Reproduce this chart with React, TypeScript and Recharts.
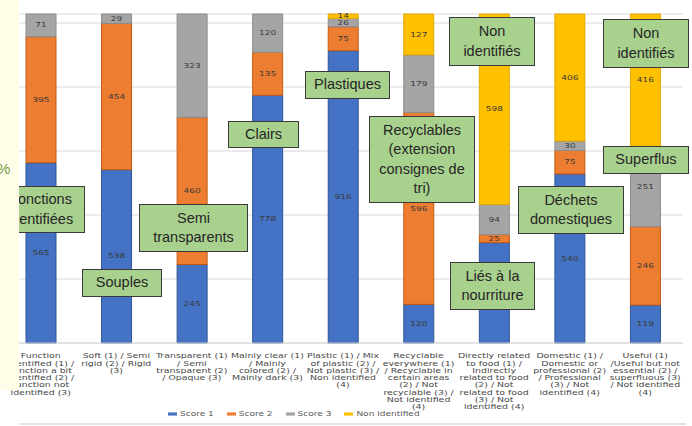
import React from "react";
import { BarChart, Bar, XAxis, YAxis, CartesianGrid, LabelList } from "recharts";

const categories = [
  "Function\nidentified (1) /\nfunction a bit\nidentified (2) /\nfunction not\nidentified (3)",
  "Soft (1) / Semi\nrigid (2) / Rigid\n(3)",
  "Transparent (1)\n/ Semi\ntransparent (2)\n/ Opaque (3)",
  "Mainly clear (1)\n/ Mainly\ncolored (2) /\nMainly dark (3)",
  "Plastic (1) / Mix\nof plastic (2) /\nNot plastic (3) /\nNon identified\n(4)",
  "Recyclable\neverywhere (1)\n/ Recyclable in\ncertain areas\n(2) / Not\nrecyclable (3) /\nNot identified\n(4)",
  "Directly related\nto food (1) /\nIndirectly\nrelated to food\n(2) / Not\nrelated to food\n(3) / Not\nidentified (4)",
  "Domestic (1) /\nDomestic or\nprofessional (2)\n/ Professional\n(3) / Not\nidentified (4)",
  "Useful (1)\n/Useful but not\nessential (2) /\nsuperfluous (3)\n/ Not identified\n(4)",
];

const score1 = [565, 538, 245, 778, 916, 120, 315, 540, 119];
const score2 = [395, 454, 460, 135, 75, 596, 25, 75, 246];
const score3 = [71, 29, 323, 120, 26, 179, 94, 30, 251];
const nonIdentified = [0, 0, 0, 0, 14, 127, 598, 406, 416];

// gridline positions as a share of the full bar (as they sit in the picture)
const gridTicks = [0, 0.1945, 0.389, 0.5836, 0.778, 0.9726];

const seriesNames = ["Score 1", "Score 2", "Score 3", "Non identified"];
const colors = ["#4472C4", "#ED7D31", "#A5A5A5", "#FFC000"];
const edges = ["#2F5597", "#C55A11", "#8C8C8C", "#E0A800"];

const notes = [
  { text: "Fonctions\nidentifiées", left: -4, top: 186, width: 89, height: 47 },
  { text: "Souples", left: 82, top: 269, width: 80, height: 28 },
  { text: "Semi\ntransparents", left: 139, top: 204, width: 109, height: 48 },
  { text: "Clairs", left: 228, top: 121, width: 71, height: 27 },
  { text: "Plastiques", left: 305, top: 71, width: 85, height: 28 },
  { text: "Recyclables\n(extension\nconsignes de\ntri)", left: 369, top: 116, width: 106, height: 87 },
  { text: "Non\nidentifiés", left: 449, top: 17, width: 86, height: 49 },
  { text: "Liés à la\nnourriture", left: 450, top: 262, width: 85, height: 48 },
  { text: "Déchets\ndomestiques", left: 518, top: 186, width: 106, height: 48 },
  { text: "Non\nidentifiés", left: 603, top: 19, width: 86, height: 49 },
  { text: "Superflus", left: 603, top: 146, width: 86, height: 28 },
];

const data = categories.map((name, i) => ({
  name,
  s1: score1[i],
  s2: score2[i],
  s3: score3[i],
  s4: nonIdentified[i],
}));

const CategoryTick = ({ x, y, payload }: any) => {
  const lines = String(payload.value).split("\n");
  return (
    <g transform={`translate(${x},${y}) scale(1,0.78)`}>
      <text textAnchor="middle" fontSize={9.4} fill="#474747" fontFamily="DejaVu Sans">
        {lines.map((line, i) => (
          <tspan key={i} x={0} y={9.5 + i * 9.3}>
            {line}
          </tspan>
        ))}
      </text>
    </g>
  );
};

const SegmentLabel = (props: any) => {
  const { x, y, width, height, value } = props;
  if (!value) return null;
  const cx = Number(x) + Number(width) / 2;
  const cy = Number(y) + Number(height) / 2;
  return (
    <text
      x={0}
      y={0}
      textAnchor="middle"
      dominantBaseline="central"
      fontSize={9}
      fill="#3a3a3a"
      fontFamily="DejaVu Sans"
      transform={`translate(${cx},${cy}) scale(1,0.75)`}
    >
      {value}
    </text>
  );
};

export default function App() {
  const keys = ["s1", "s2", "s3", "s4"];
  return (
    <div
      style={{
        position: "absolute",
        left: 0,
        top: 0,
        width: 692,
        height: 426,
        background: "#fff",
        overflow: "hidden",
      }}
    >
      <BarChart
        width={692}
        height={426}
        data={data}
        stackOffset="expand"
        margin={{ top: 14, right: 9, left: 3, bottom: 0 }}
      >
        <CartesianGrid vertical={false} stroke="#D9D9D9" />
        <XAxis
          dataKey="name"
          height={83}
          interval={0}
          tickLine={false}
          axisLine={{ stroke: "#D9D9D9" }}
          tick={<CategoryTick />}
        />
        <YAxis hide domain={[0, 1]} ticks={gridTicks} />
        {keys.map((k, i) => (
          <Bar
            key={k}
            dataKey={k}
            name={seriesNames[i]}
            stackId="a"
            barSize={30}
            fill={colors[i]}
            stroke={edges[i]}
            strokeWidth={1}
            isAnimationActive={false}
          >
            <LabelList dataKey={k} content={<SegmentLabel />} />
          </Bar>
        ))}
      </BarChart>

      {notes.map((n, i) => (
        <div
          key={i}
          style={{
            position: "absolute",
            left: n.left,
            top: n.top,
            width: n.width,
            height: n.height,
            boxSizing: "border-box",
            background: "#A9D18E",
            border: "1.5px solid #3A3A3A",
            display: "flex",
            alignItems: "center",
            justifyContent: "center",
            textAlign: "center",
            whiteSpace: "pre-line",
            fontFamily: "Liberation Sans, Arial, sans-serif",
            fontSize: 14.5,
            lineHeight: "19.5px",
            color: "#262626",
          }}
        >
          {n.text}
        </div>
      ))}

      <div
        style={{
          position: "absolute",
          left: 0,
          top: 0,
          width: 19,
          height: 390,
          background: "#FFFDE8",
        }}
      />
      <div
        style={{
          position: "absolute",
          left: -3,
          top: 160,
          fontSize: 15,
          color: "#6E9E4E",
          fontFamily: "Liberation Sans, Arial, sans-serif",
        }}
      >
        %
      </div>

      <div
        style={{
          position: "absolute",
          left: 168,
          top: 409,
          display: "flex",
          alignItems: "center",
          fontFamily: "DejaVu Sans",
          fontSize: 9,
          color: "#595959",
          transform: "scaleY(0.8)",
          transformOrigin: "left center",
        }}
      >
        {seriesNames.map((s, i) => (
          <div key={s} style={{ display: "flex", alignItems: "center", marginRight: 13 }}>
            <span style={{ display: "inline-block", width: 9, height: 4, background: colors[i], marginRight: 3 }} />
            <span>{s}</span>
          </div>
        ))}
      </div>

      <div
        style={{
          position: "absolute",
          left: 19,
          top: 423,
          width: 667,
          height: 2,
          background: "#E3E3E3",
        }}
      />
    </div>
  );
}
